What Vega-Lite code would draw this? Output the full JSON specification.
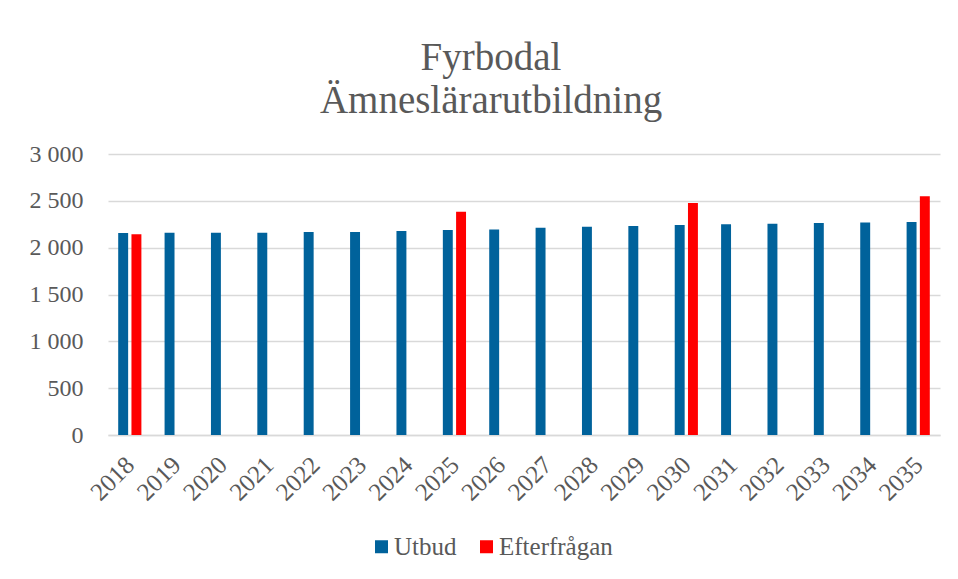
{
  "$schema": "https://vega.github.io/schema/vega-lite/v6.json",
  "autosize": "none",
  "width": 832,
  "height": 281,
  "padding": {"left": 108, "top": 154, "right": 18, "bottom": 144},
  "background": "white",
  "title": {
    "text": ["Fyrbodal", "Ämneslärarutbildning"],
    "font": "Liberation Serif",
    "fontSize": 39,
    "fontWeight": "normal",
    "color": "#595959",
    "lineHeight": 43,
    "anchor": "middle",
    "dx": -33,
    "offset": 21
  },
  "data": {
    "values": [
      {"year": "2018", "series": "Utbud", "value": 2156},
      {"year": "2018", "series": "Efterfrågan", "value": 2142},
      {"year": "2019", "series": "Utbud", "value": 2160},
      {"year": "2020", "series": "Utbud", "value": 2160},
      {"year": "2021", "series": "Utbud", "value": 2160},
      {"year": "2022", "series": "Utbud", "value": 2166},
      {"year": "2023", "series": "Utbud", "value": 2167},
      {"year": "2024", "series": "Utbud", "value": 2177},
      {"year": "2025", "series": "Utbud", "value": 2188},
      {"year": "2025", "series": "Efterfrågan", "value": 2384},
      {"year": "2026", "series": "Utbud", "value": 2195},
      {"year": "2027", "series": "Utbud", "value": 2213},
      {"year": "2028", "series": "Utbud", "value": 2224},
      {"year": "2029", "series": "Utbud", "value": 2231},
      {"year": "2030", "series": "Utbud", "value": 2241},
      {"year": "2030", "series": "Efterfrågan", "value": 2476},
      {"year": "2031", "series": "Utbud", "value": 2249},
      {"year": "2032", "series": "Utbud", "value": 2256},
      {"year": "2033", "series": "Utbud", "value": 2263},
      {"year": "2034", "series": "Utbud", "value": 2270},
      {"year": "2035", "series": "Utbud", "value": 2273},
      {"year": "2035", "series": "Efterfrågan", "value": 2548}
    ]
  },
  "mark": {"type": "bar"},
  "encoding": {
    "x": {
      "field": "year",
      "type": "ordinal",
      "scale": {"paddingInner": 0.5, "paddingOuter": 0.22},
      "axis": {
        "title": null,
        "labelAngle": -45,
        "labelFont": "Liberation Serif",
        "labelFontSize": 25,
        "labelColor": "#595959",
        "labelPadding": 17,
        "labelOffset": -8,
        "ticks": false,
        "tickSize": 0,
        "domainColor": "#d9d9d9",
        "domainWidth": 1.5,
        "grid": false
      }
    },
    "xOffset": {
      "field": "series",
      "type": "nominal",
      "scale": {"domain": ["Utbud", "Efterfrågan"], "paddingInner": 0.25, "paddingOuter": 0}
    },
    "y": {
      "field": "value",
      "type": "quantitative",
      "scale": {"domain": [0, 3000]},
      "axis": {
        "title": null,
        "values": [0, 500, 1000, 1500, 2000, 2500, 3000],
        "labelExpr": "replace(format(datum.value, ','), ',', ' ')",
        "labelFont": "Liberation Serif",
        "labelFontSize": 24,
        "labelColor": "#595959",
        "labelPadding": 25,
        "ticks": false,
        "tickSize": 0,
        "domain": false,
        "gridColor": "#d9d9d9",
        "gridWidth": 1.5
      }
    },
    "color": {
      "field": "series",
      "type": "nominal",
      "scale": {"domain": ["Utbud", "Efterfrågan"], "range": ["#00629B", "#FF0000"]},
      "legend": {
        "title": null,
        "orient": "none",
        "legendX": 261,
        "legendY": 380,
        "direction": "horizontal",
        "symbolType": "square",
        "symbolSize": 169,
        "symbolStrokeWidth": 0,
        "labelFont": "Liberation Serif",
        "labelFontSize": 25,
        "labelColor": "#595959",
        "labelOffset": 0,
        "columnPadding": 17
      }
    }
  },
  "config": {
    "view": {"stroke": null}
  }
}
